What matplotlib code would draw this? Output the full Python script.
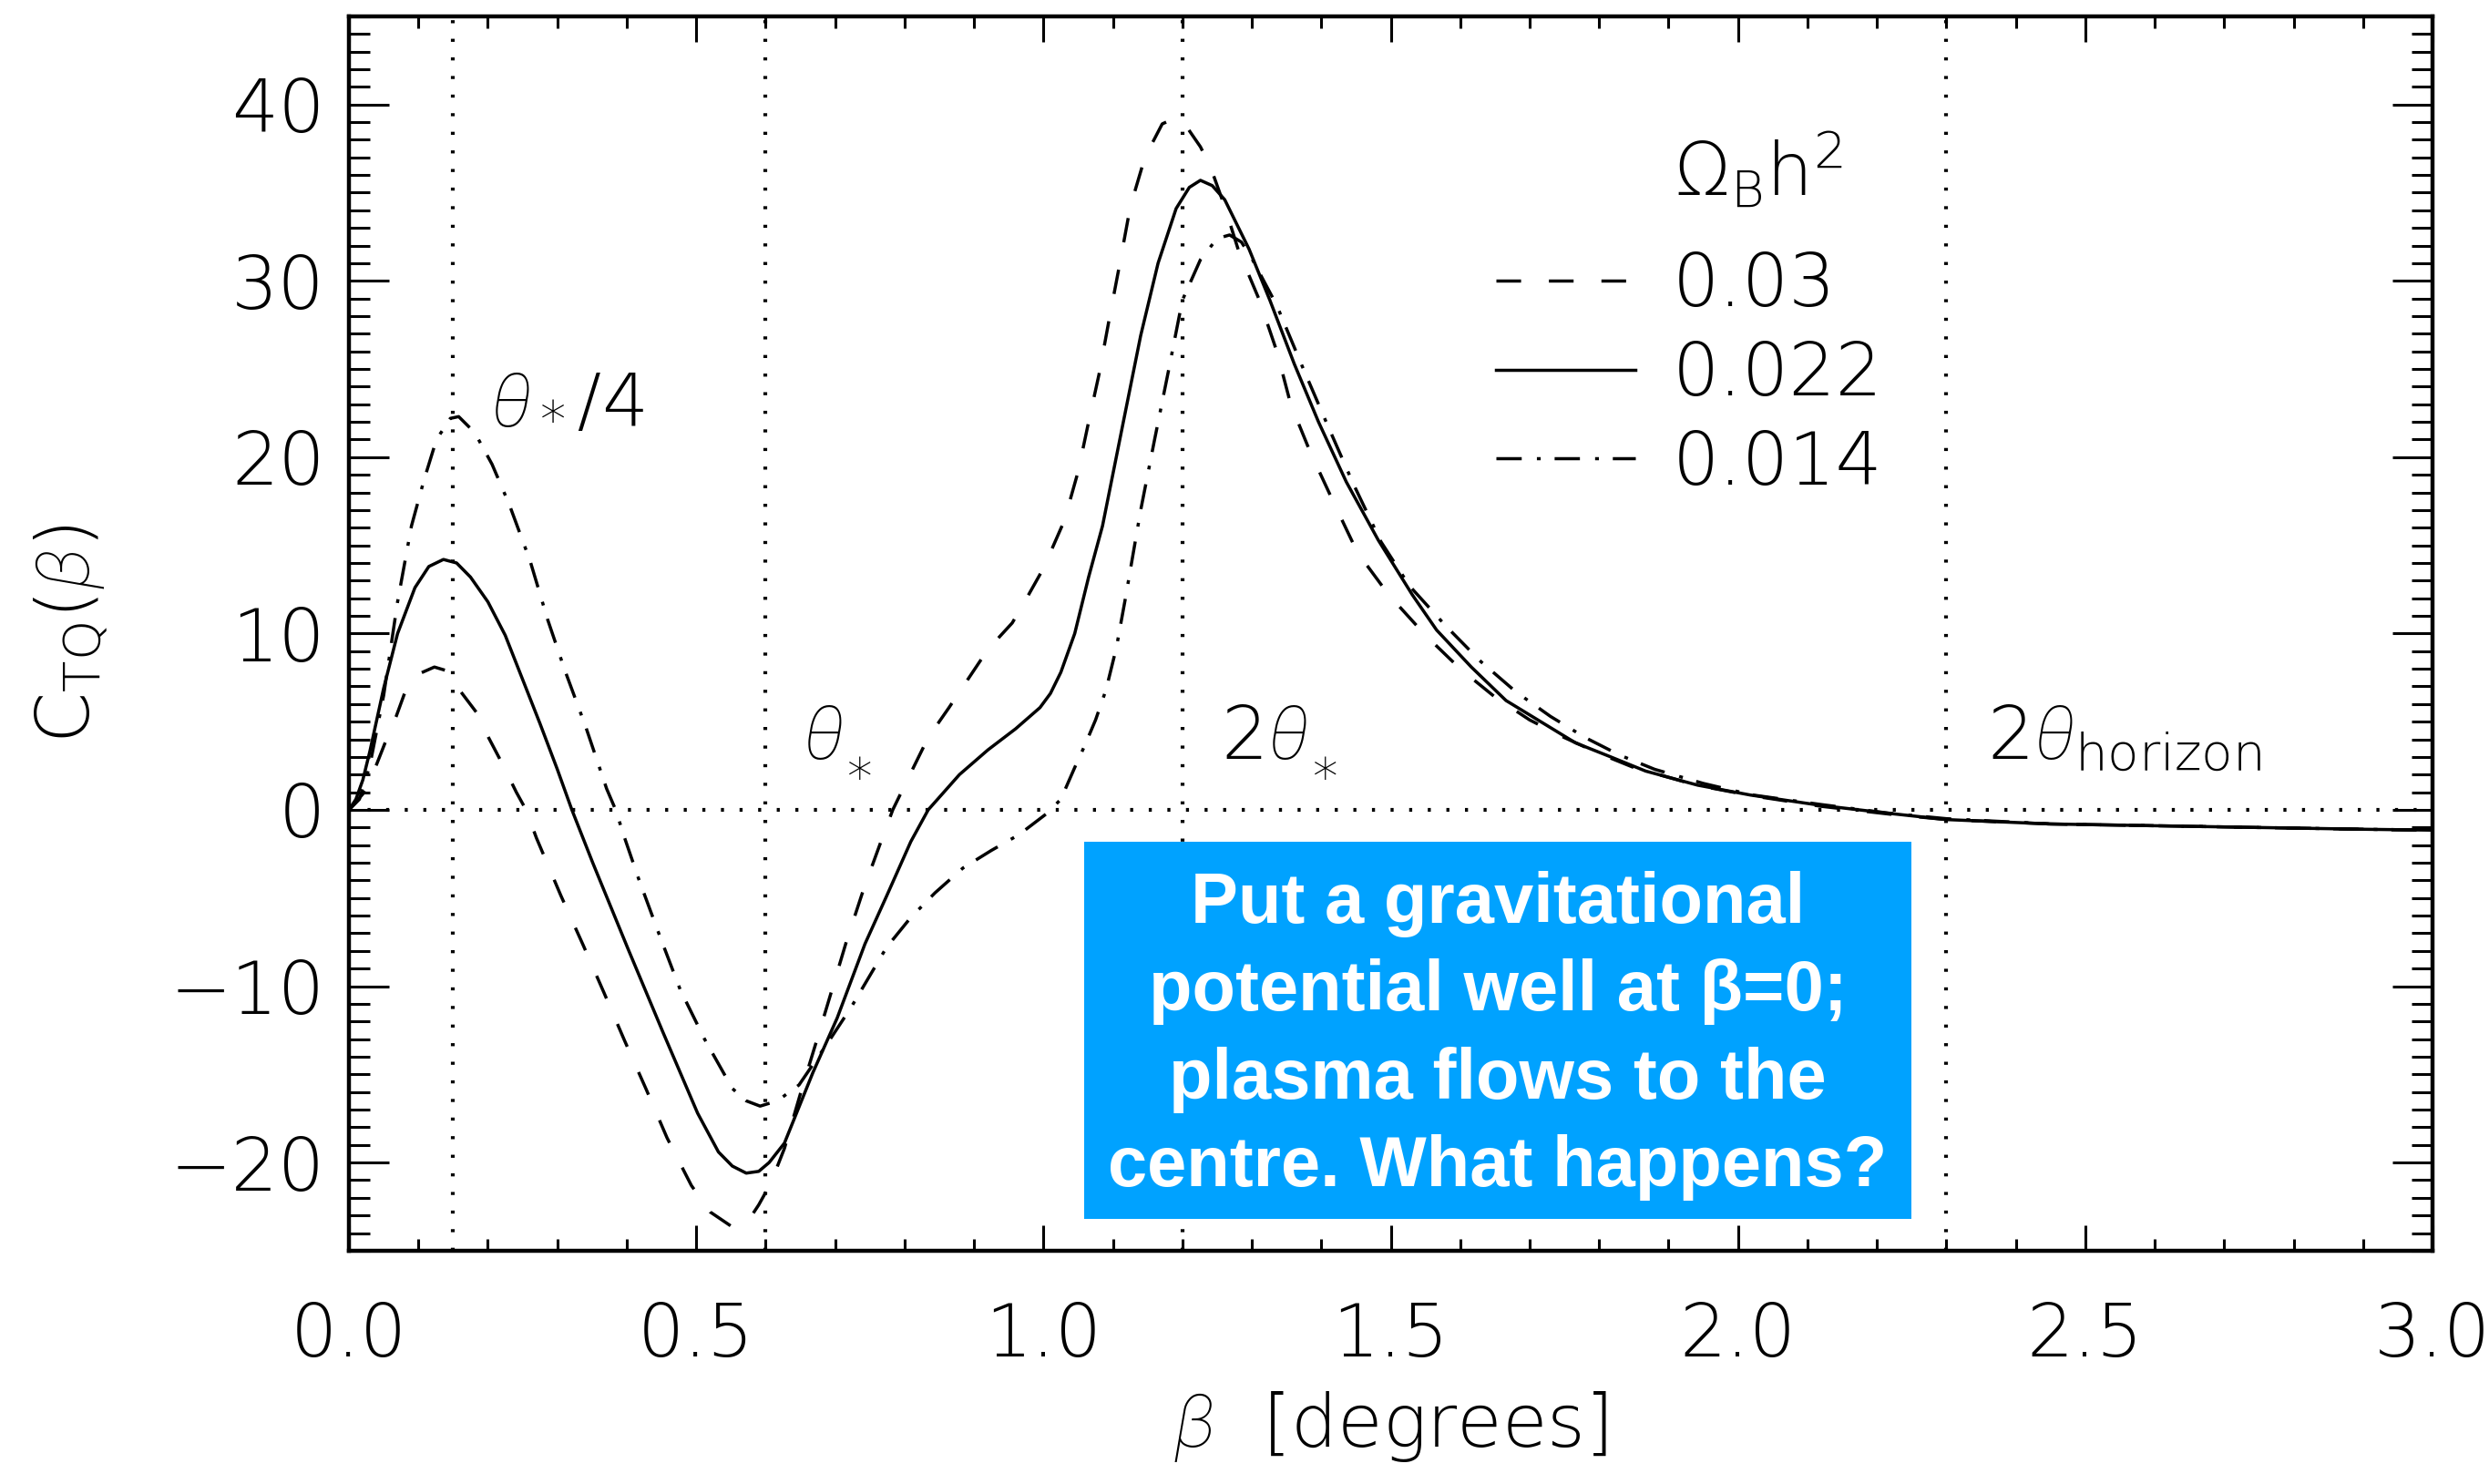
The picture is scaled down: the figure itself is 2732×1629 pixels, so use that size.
import numpy as np
import matplotlib
matplotlib.use('Agg')
import matplotlib.pyplot as plt
from matplotlib.patches import Rectangle
from matplotlib.lines import Line2D
from matplotlib.ticker import MultipleLocator, FormatStrFormatter

# 그림에서 읽은 값들
beta_030 = [0.0, 0.02, 0.04, 0.055, 0.068, 0.08, 0.1, 0.123, 0.14, 0.161, 0.186, 0.201, 0.221,
            0.241, 0.255, 0.27, 0.305, 0.337, 0.367, 0.397, 0.428, 0.458, 0.493, 0.52, 0.55,
            0.575, 0.59, 0.607, 0.627, 0.65, 0.678, 0.716, 0.741, 0.766, 0.783, 0.804, 0.834,
            0.864, 0.92, 0.955, 0.97, 1.0, 1.03, 1.05, 1.065, 1.08, 1.095, 1.11, 1.125, 1.146,
            1.171, 1.188, 1.205, 1.226, 1.241, 1.261, 1.281, 1.311, 1.336, 1.356, 1.384, 1.417,
            1.452, 1.497, 1.55, 1.6, 1.65, 1.7, 1.75, 1.8, 1.85, 1.94, 2.02, 2.12, 2.22, 2.3,
            2.45, 2.6, 2.75, 2.9, 3.0]
c_030 = [0.0, 0.9, 2.6, 4.1, 5.3, 6.6, 7.7, 8.1, 7.9, 6.7, 5.4, 4.1, 2.6,
         1.0, 0.0, -1.6, -4.85, -7.65, -10.35, -13.1, -15.85, -18.6, -21.3, -22.8, -23.6,
         -23.3, -22.4, -21.2, -19.2, -16.1, -12.5, -7.5, -4.5, -1.8, 0.0, 1.7, 4.1,
         5.8, 9.1, 10.6, 11.6, 13.7, 16.4, 19.2, 22.0, 24.7, 27.9, 31.0, 34.2, 37.0,
         38.9, 39.2, 38.8, 37.6, 36.4, 34.2, 31.7, 28.9, 26.0, 23.0, 20.3, 17.5,
         14.6, 12.2, 9.9, 8.0, 6.4, 5.1, 4.1, 3.2, 2.4, 1.4, 0.8, 0.2, -0.25, -0.55,
         -0.8, -0.9, -1.0, -1.1, -1.15]

beta_022 = [0.0, 0.01, 0.02, 0.03, 0.05, 0.07, 0.095, 0.115, 0.136, 0.155, 0.175, 0.2, 0.225,
            0.25, 0.275, 0.3, 0.321, 0.351, 0.402, 0.452, 0.502, 0.532, 0.552, 0.572, 0.59,
            0.605, 0.627, 0.668, 0.703, 0.743, 0.774, 0.809, 0.834, 0.879, 0.92, 0.96, 0.995,
            1.01, 1.025, 1.045, 1.065, 1.085, 1.115, 1.14, 1.165, 1.191, 1.21, 1.226, 1.243,
            1.261, 1.296, 1.326, 1.361, 1.396, 1.436, 1.482, 1.531, 1.566, 1.616, 1.666, 1.716,
            1.766, 1.817, 1.867, 1.942, 2.018, 2.118, 2.218, 2.3, 2.45, 2.6, 2.75, 2.9, 3.0]
c_022 = [0.0, 0.6, 1.7, 3.3, 6.9, 10.0, 12.6, 13.8, 14.2, 14.0, 13.2, 11.8, 9.9,
         7.4, 4.9, 2.3, 0.0, -3.0, -7.9, -12.6, -17.2, -19.4, -20.2, -20.6, -20.5,
         -20.0, -18.9, -14.9, -11.8, -7.6, -4.9, -1.8, 0.0, 2.0, 3.4, 4.6, 5.8,
         6.6, 7.8, 10.0, 13.2, 16.1, 22.0, 26.9, 31.0, 34.1, 35.3, 35.7, 35.4,
         34.6, 31.8, 28.9, 25.3, 22.0, 18.6, 15.3, 12.2, 10.2, 8.1, 6.2, 5.0,
         3.8, 3.0, 2.2, 1.4, 0.84, 0.26, -0.2, -0.55, -0.8, -0.9, -1.0, -1.1, -1.15]

beta_014 = [0.0, 0.015, 0.03, 0.05, 0.07, 0.09, 0.108, 0.126, 0.146, 0.158, 0.181, 0.206, 0.231,
            0.261, 0.286, 0.311, 0.341, 0.371, 0.384, 0.397, 0.417, 0.447, 0.477, 0.512, 0.552,
            0.572, 0.592, 0.617, 0.648, 0.693, 0.723, 0.753, 0.774, 0.809, 0.844, 0.884, 0.925,
            0.965, 1.005, 1.025, 1.045, 1.06, 1.075, 1.09, 1.105, 1.118, 1.14, 1.16, 1.18, 1.2,
            1.226, 1.25, 1.268, 1.285, 1.301, 1.336, 1.371, 1.407, 1.446, 1.486, 1.527, 1.58,
            1.63, 1.68, 1.73, 1.78, 1.83, 1.88, 1.95, 2.02, 2.12, 2.22, 2.3, 2.45, 2.6, 2.75,
            2.9, 3.0]
c_014 = [0.0, 0.6, 2.5, 6.5, 11.8, 16.1, 18.7, 21.0, 22.2, 22.3, 21.4, 19.6, 17.3,
         14.1, 10.8, 7.9, 4.7, 1.2, 0.0, -1.6, -3.9, -7.1, -10.2, -13.0, -15.8,
         -16.5, -16.8, -16.5, -15.6, -13.0, -11.2, -9.2, -7.8, -6.1, -4.7, -3.3, -2.3,
         -1.4, -0.2, 0.6, 2.4, 3.7, 5.1, 6.8, 9.2, 12.0, 17.0, 21.0, 24.9, 28.9,
         31.2, 32.4, 32.6, 32.2, 31.2, 28.6, 25.3, 22.0, 18.5, 15.2, 12.7, 10.4,
         8.4, 6.7, 5.3, 4.1, 3.1, 2.3, 1.5, 0.85, 0.3, -0.2, -0.5, -0.8, -0.9, -1.0,
         -1.1, -1.15]

omega_labels = ['0.03', '0.022', '0.014']
ref_lines = [0.15, 0.6, 1.2, 2.3]
note = 'Put a gravitational\npotential well at \u03b2=0;\nplasma flows to the\ncentre. What happens?'

# 글꼴 설정
plt.rcParams['font.family'] = ['DejaVu Sans']
plt.rcParams['font.weight'] = 'light'
plt.rcParams['axes.labelweight'] = 'light'
plt.rcParams['mathtext.fontset'] = 'custom'
plt.rcParams['mathtext.rm'] = 'DejaVu Sans:light'
plt.rcParams['mathtext.it'] = 'Roboto:italic:light'
plt.rcParams['mathtext.bf'] = 'DejaVu Sans:bold'
plt.rcParams['lines.scale_dashes'] = False
FS = 58

fig = plt.figure(figsize=(27.32, 16.29), dpi=100)
ax = fig.add_axes([0.1402, 0.1572, 0.8371, 0.8318])

LW = 2.5
styles = [dict(color='black', lw=LW, dashes=(19.5, 22)),
          dict(color='black', lw=LW, linestyle='-'),
          dict(color='black', lw=LW, dashes=(20, 12, 3, 11))]

# 기준 점선
for xv in ref_lines:
    ax.axvline(xv, color='black', lw=3.0, dashes=(2.4, 12.3), zorder=1)
ax.axhline(0, color='black', lw=3.0, dashes=(2.4, 12.3), zorder=1)

series = [(beta_030, c_030), (beta_022, c_022), (beta_014, c_014)]
for (bx, cy), st in zip(series, styles):
    ax.plot(bx, cy, zorder=3, **st)

ax.set_xlim(0, 3.0)
ax.set_ylim(-25, 45)
ax.xaxis.set_major_locator(MultipleLocator(0.5))
ax.xaxis.set_minor_locator(MultipleLocator(0.1))
ax.yaxis.set_major_locator(MultipleLocator(10))
ax.yaxis.set_minor_locator(MultipleLocator(1))
ax.xaxis.set_major_formatter(FormatStrFormatter('%.1f'))

ax.tick_params(axis='both', which='both', direction='in', top=True, right=True,
               width=2.2, labelsize=FS)
ax.tick_params(axis='x', which='major', length=20, pad=40)
ax.tick_params(axis='x', which='minor', length=9.5)
ax.tick_params(axis='y', which='major', length=32, pad=19)
ax.tick_params(axis='y', which='minor', length=16.5)
for sp in ax.spines.values():
    sp.set_linewidth(3.2)

ax.set_xlabel(r'$\beta$  [degrees]', fontsize=FS, fontweight='light')
ax.set_ylabel(r'C$_{\rm TQ}$($\beta$)', fontsize=FS, fontweight='light')
ax.xaxis.set_label_coords(0.5, -0.112)
ax.yaxis.set_label_coords(-0.114, 0.5)

# 기준선 라벨
ax.text(0.203, 22.0, r'$\theta_*/4$', fontsize=FS, ha='left', va='baseline')
star_labels = [(0.653, r'$\theta$'), (1.256, r'$2\theta$')]
for lx, lab in star_labels:
    t = ax.text(lx, 2.87, lab, fontsize=FS, ha='left', va='baseline')
    ax.annotate(r'$*$', xy=(1, 0), xycoords=t, xytext=(3, -4), textcoords='offset points',
                ha='left', va='center', fontsize=40)
ax.text(2.358, 2.87, r'$2\theta_{\rm horizon}$', fontsize=FS, ha='left', va='baseline')

# 범례
handles = [Line2D([], [], **st) for st in styles]
ax.legend(handles, omega_labels, loc='upper left', bbox_to_anchor=(0.5505, 0.810),
          frameon=False, fontsize=FS, handlelength=1.9, handletextpad=0.5,
          labelspacing=0.25, borderpad=0, borderaxespad=0)
ax.text(1.907, 34.85, r'$\Omega_{\rm B}{\rm h}^2$', fontsize=FS, ha='left', va='baseline')

# 파란 설명 상자
fig.add_artist(Rectangle((0.4356, 0.1786), 0.3324, 0.2541, transform=fig.transFigure,
                         facecolor='#00A2FF', edgecolor='none', zorder=5))
fig.text(0.6018, 0.302, note, ha='center', va='center', color='white',
         fontsize=56, fontweight='bold', family='Liberation Sans', linespacing=1.41,
         zorder=6)

fig.savefig('out.png', dpi=100)
